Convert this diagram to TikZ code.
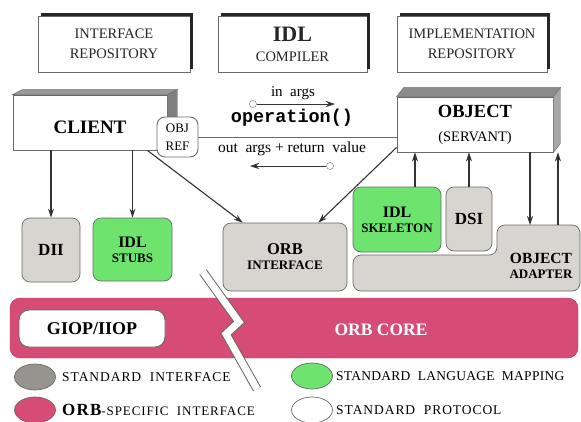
\documentclass[tikz,border=0pt]{standalone}
\usepackage{fontspec}
\setmainfont{Liberation Serif}
\newfontfamily\opfont{Liberation Mono}
\usetikzlibrary{arrows.meta,calc,shapes.geometric}

\definecolor{orbpink}{RGB}{214,76,118}
\definecolor{mapgreen}{RGB}{110,228,110}
\definecolor{stdgrey}{RGB}{215,213,207}
\definecolor{keygrey}{RGB}{150,148,143}
\definecolor{edgegrey}{RGB}{105,105,105}

\tikzset{
  topbox/.style={draw=edgegrey, line width=0.8pt, fill=white, inner sep=0pt, align=center,
    text=black!85, font=\fontsize{14.5}{20}\selectfont},
  solidbox/.style={draw=edgegrey, line width=0.9pt, fill=white, inner sep=0pt, align=center},
  ifacebox/.style={draw=edgegrey, line width=0.7pt, fill=stdgrey, rounded corners=8pt,
    inner sep=0pt, align=center, font=\bfseries\fontsize{13}{15}\selectfont},
  mapbox/.style={ifacebox, fill=mapgreen},
  arr/.style={-{Stealth[length=9pt,width=6pt]}, line width=1.1pt, draw=black!80},
  keydot/.style={ellipse, draw=edgegrey, line width=0.7pt, minimum width=41pt,
    minimum height=26pt, inner sep=0pt},
  keytext/.style={anchor=west, inner sep=0pt,
    font=\fontsize{13.5}{15}\selectfont\addfontfeatures{LetterSpace=7}}
}

\begin{document}
\begin{tikzpicture}[x=1pt,y=-1pt]
\useasboundingbox (0,0) rectangle (581,421);

% repositories and compiler
\node[topbox, minimum width=152pt, minimum height=56pt] (ir) at (114,44) {INTERFACE\\REPOSITORY};
\node[topbox, minimum width=149pt, minimum height=56pt] (idlc) at (292.5,44)
  {{\bfseries\fontsize{22}{22}\selectfont IDL}\\COMPILER};
\node[topbox, minimum width=150pt, minimum height=56pt] (impl) at (472,44) {IMPLEMENTATION\\REPOSITORY};
\foreach \b in {ir,idlc,impl}
  \draw[line width=2.6pt, black!85] ($(\b.north west)+(3,-1.3)$) -- ($(\b.north east)+(1.3,-1.3)$)
    -- ($(\b.south east)+(1.3,-3)$);

% client
\node[solidbox, minimum width=154pt, minimum height=55pt, text height=22pt, text depth=0pt,
  font=\bfseries\fontsize{19}{19}\selectfont] (client) at (90,122.5) {CLIENT};
\filldraw[draw=edgegrey, fill=black!40] (client.north west) -- ++(10,-5)
  -- ($(client.north east)+(10,-5)$) -- (client.north east) -- cycle;
\filldraw[draw=edgegrey, fill=black!50] (client.north east) -- ++(10,-5)
  -- ($(client.south east)+(10,-5)$) -- (client.south east) -- cycle;
\node[solidbox, rounded corners=8pt, minimum width=41pt, minimum height=40pt,
  font=\fontsize{13}{18}\selectfont] (objref) at (177.5,137) {OBJ\\REF};

% object
\node[solidbox, minimum width=156pt, minimum height=55pt, font=\fontsize{14.5}{24}\selectfont]
  (object) at (475,124.5) {{\bfseries\fontsize{18.5}{18.5}\selectfont OBJECT}\\(SERVANT)};
\filldraw[draw=edgegrey, fill=black!45] (object.north west) -- ++(7,-9)
  -- ($(object.north east)+(7,-9)$) -- (object.north east) -- cycle;
\filldraw[draw=edgegrey, fill=black!35] (object.north east) -- ++(7,-9)
  -- ($(object.south east)+(7,-9)$) -- (object.south east) -- cycle;

% request
\draw[line width=0.8pt, edgegrey] (objref.east) -- (object.west |- objref.east);
\node[font=\fontsize{15}{15}\selectfont] (inargs) at (293,93) {in\ \ args};
\node[font=\opfont\bfseries\fontsize{18.5}{18.5}\selectfont] (op) at (292,118) {operation()};
\node[font=\fontsize{15.5}{15.5}\selectfont] (outargs) at (292,149) {out\ \ args + return\ \ value};
\node[circle, draw=edgegrey, fill=white, minimum size=7pt, inner sep=0pt] (inA) at (253,104) {};
\coordinate (inB) at (335,104);
\draw[arr, line width=0.8pt] (inA) -- (inB);
\node[circle, draw=edgegrey, fill=white, minimum size=7pt, inner sep=0pt] (outA) at (330,166) {};
\coordinate (outB) at (250,166);
\draw[arr, line width=0.8pt] (outA) -- (outB);

% stubs, interfaces, skeletons
\node[ifacebox, minimum width=58pt, minimum height=64pt, font=\bfseries\fontsize{17}{17}\selectfont]
  (dii) at (51,250) {DII};
\node[mapbox, minimum width=79pt, minimum height=63pt] (stubs) at (132.5,249.5)
  {{\fontsize{16}{16}\selectfont IDL}\\STUBS};
\node[ifacebox, minimum width=124pt, minimum height=68pt] (orbif) at (285,257)
  {{\fontsize{16.5}{16.5}\selectfont ORB}\\INTERFACE};
\node[mapbox, minimum width=88pt, minimum height=65pt] (skel) at (397,219.5)
  {{\fontsize{16}{16}\selectfont IDL}\\SKELETON};
\node[ifacebox, minimum width=46pt, minimum height=64pt, font=\bfseries\fontsize{17}{17}\selectfont]
  (dsi) at (469,219) {DSI};
\draw[draw=edgegrey, line width=0.7pt, fill=stdgrey, rounded corners=8pt]
  (420,291) -- (353,291) -- (353,255) -- (497,255) -- (497,225) -- (580,225) -- (580,291) -- cycle;
\node[align=center, font=\bfseries\fontsize{15.5}{15}\selectfont] (adapter) at (541,265.5)
  {OBJECT\\{\fontsize{13}{13}\selectfont ADAPTER}};

% calls
\draw[arr] (dii.north |- client.south) -- (dii.north);
\draw[arr] (stubs.north |- client.south) -- (stubs.north);
\draw[arr] ($(client.south east)+(-20,0)$) -- ($(orbif.north west)+(20,0)$);
\draw[arr] ($(object.south west)+(0,-5)$) -- ($(orbif.north east)+(-29,0)$);
\draw[arr] ($(skel.north)+(18,0)$) -- ($(skel.north |- object.south)+(18,0)$);
\draw[arr] (dsi.north) -- (dsi.north |- object.south);
\coordinate (oadn) at (530,225);
\coordinate (oaup) at (558,225);
\draw[arr] (oadn |- object.south) -- (oadn);
\draw[arr] (oaup) -- (oaup |- object.south);

% orb core
\node[fill=orbpink, draw=orbpink!80!black, rounded corners=10pt, minimum width=568pt,
  minimum height=60pt, inner sep=0pt] (core) at (294,328) {};
\node[solidbox, rounded corners=10pt, minimum width=146pt, minimum height=37pt,
  font=\bfseries\fontsize{18}{18}\selectfont] (giop) at (92,328.5) {GIOP/IIOP};
\node[text=white, font=\bfseries\fontsize{17.5}{17.5}\selectfont] (corelbl) at (381,330) {ORB CORE};

% break
\coordinate (z1) at (203,272);
\coordinate (z2) at (239,322);
\coordinate (z3) at (226,334);
\coordinate (z4) at (257,389);
\draw[edgegrey, line width=9pt] (z1) -- (z2) -- (z3) -- (z4);
\draw[white, line width=7pt] (z1) -- (z2) -- (z3) -- (z4);

% legend
\node[keydot, fill=keygrey] (kstd) at (35,377) {};
\node[keytext] (kstdtxt) at (62,377) {STANDARD\ \ INTERFACE};
\node[keydot, fill=orbpink] (korb) at (35,410) {};
\node[keytext] (korbtxt) at (62,410)
  {{\bfseries\fontsize{17}{17}\selectfont ORB}{\fontsize{13}{13}\selectfont-SPECIFIC\ \ INTERFACE}};
\node[keydot, fill=mapgreen] (kmap) at (312,376) {};
\node[keytext, font=\fontsize{13.5}{15}\selectfont\addfontfeatures{LetterSpace=2}] (kmaptxt)
  at (336,376) {STANDARD\ \ LANGUAGE\ \ MAPPING};
\node[keydot, fill=white] (kproto) at (312,410) {};
\node[keytext] (kprototxt) at (336,410) {STANDARD\ \ PROTOCOL};
\end{tikzpicture}
\end{document}
